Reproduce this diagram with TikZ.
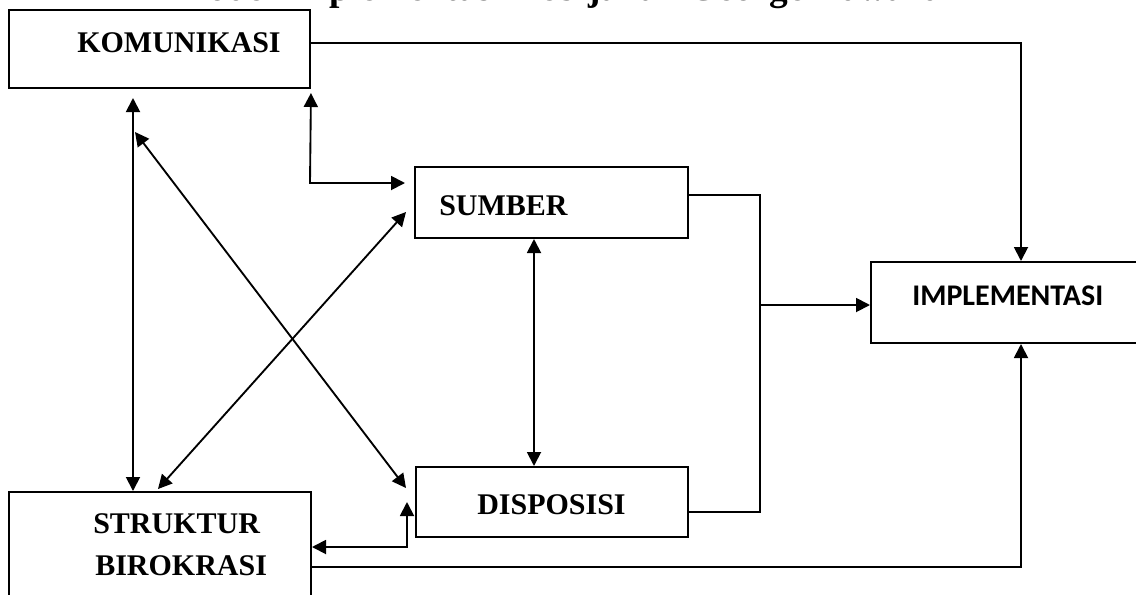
\documentclass[tikz,border=0pt]{standalone}
\usepackage{fontspec}
\setmainfont{Liberation Serif}
\newfontfamily\carlitofont{Carlito}
\usetikzlibrary{arrows.meta}
\begin{document}
\begin{tikzpicture}[x=0.75pt,y=-0.75pt,
  box/.style={draw,line width=1.5pt,minimum width=#1},
  lbl/.style={anchor=base west,inner sep=0pt,font=\fontsize{22.5}{27}\selectfont\bfseries},
  conn/.style={line width=1.4pt},
  tip/.style={conn,-{Triangle[length=10.5pt,width=10.5pt]}},
  tips/.style={conn,{Triangle[length=10.5pt,width=10.5pt]}-{Triangle[length=10.5pt,width=10.5pt]}}
]
\useasboundingbox (0,0) rectangle (1136,594);
% title (clipped by the page edge)
\node[anchor=base west,inner sep=0pt,font=\fontsize{28}{32}\selectfont\bfseries] (title) at (173,0) {Model Implementasi Kebijakan George Edward};
% boxes
\node[box=225.75pt,minimum height=58.5pt] (kom) at (159.5,49) {};
\node[box=204.75pt,minimum height=53.25pt] (sum) at (551.5,202.5) {};
\node[box=204pt,minimum height=52.5pt] (dis) at (552,502) {};
\node[box=209.25pt,minimum height=60.75pt] (imp) at (1010.5,302.5) {};
\node[box=226.5pt,minimum height=111pt] (str) at (160,566) {};
% labels
\node[lbl] (komt) at (77,52) {KOMUNIKASI};
\node[lbl] (sumt) at (439,215) {SUMBER};
\node[lbl] (dist) at (477,514) {DISPOSISI};
\node[lbl,font=\fontsize{22.5}{27}\selectfont\carlitofont\bfseries] (impt) at (912,305) {IMPLEMENTASI};
\node[lbl] (strt1) at (93,533) {STRUKTUR};
\node[lbl] (strt2) at (95,575) {BIROKRASI};
% helper coordinates
\coordinate (k1) at (1021,43);
\coordinate (xa) at (133,0);
\coordinate (d1) at (135,132);
\coordinate (d2) at (406,488);
\coordinate (e1) at (406,212);
\coordinate (e2) at (158,489);
\coordinate (f1) at (310,183);
\coordinate (g1) at (534,0);
\coordinate (h1) at (407,547);
\coordinate (h2) at (407,502);
\coordinate (m1) at (760,195);
\coordinate (m2) at (760,512);
\coordinate (m3) at (760,305);
\coordinate (n1) at (1021,567);
% connectors
\draw[tip] (kom.east |- k1) -| (imp.north -| k1);
\draw[tips,shorten <=6.75pt] (kom.south -| xa) -- (str.north -| xa);
\draw[tips] (d1) -- (d2);
\draw[tips] (e1) -- (e2);
\draw[tips,shorten <=3pt,shorten >=6.75pt] (kom.south east) -- (f1) -- (sum.west |- f1);
\draw[tips] (sum.south -| g1) -- (dis.north -| g1);
\draw[tips] (str.east |- h1) -- (h1) -- (h2);
\draw[conn] (sum.east |- m1) -- (m1) -- (m2) -- (dis.east |- m2);
\draw[tip] (m3) -- (imp.west |- m3);
\draw[tip] (str.east |- n1) -| (imp.south -| n1);
\end{tikzpicture}
\end{document}
